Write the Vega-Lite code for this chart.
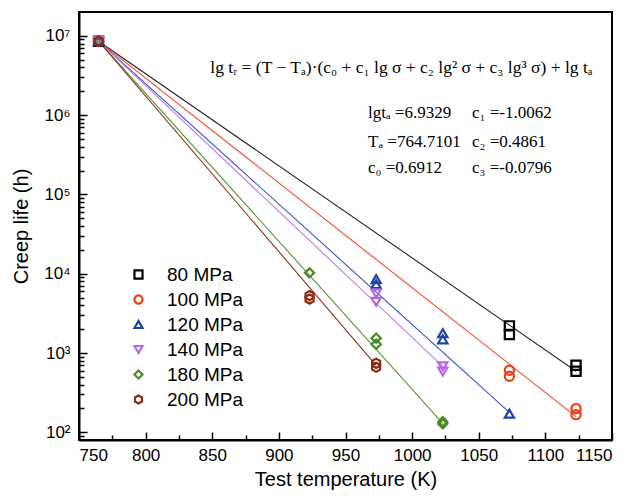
{
  "$schema": "https://vega.github.io/schema/vega-lite/v6.json",
  "width": 533,
  "height": 428,
  "autosize": {"type": "none"},
  "padding": {"left": 79, "top": 12, "right": 20, "bottom": 56},
  "background": "white",
  "config": {
    "view": {"stroke": "#000000", "strokeWidth": 2},
    "font": "Liberation Sans",
    "axis": {"grid": false, "domainColor": "#000000", "domainWidth": 2, "tickColor": "#000000", "tickWidth": 1.5,
             "labelFont": "Liberation Sans", "titleFont": "Liberation Sans", "labelColor": "#000000", "titleColor": "#000000"},
    "legend": {"labelFont": "Liberation Sans", "orient": "none", "legendX": 50, "legendY": 253, "title": null, "padding": 0,
               "labelFontSize": 19, "labelOffset": 19, "rowPadding": 5, "symbolSize": 65, "symbolStrokeWidth": 2.2}
  },
  "datasets": {
    "tests": [
      {"T": 764.71, "life": 8570000, "stress": "80 MPa"},
      {"T": 1073, "life": 2200, "stress": "80 MPa"},
      {"T": 1073, "life": 1710, "stress": "80 MPa"},
      {"T": 1123, "life": 700, "stress": "80 MPa"},
      {"T": 1123, "life": 590, "stress": "80 MPa"},
      {"T": 764.71, "life": 8570000, "stress": "100 MPa"},
      {"T": 1073, "life": 607, "stress": "100 MPa"},
      {"T": 1073, "life": 509, "stress": "100 MPa"},
      {"T": 1123, "life": 199, "stress": "100 MPa"},
      {"T": 1123, "life": 167, "stress": "100 MPa"},
      {"T": 764.71, "life": 8570000, "stress": "120 MPa"},
      {"T": 973, "life": 8550, "stress": "120 MPa"},
      {"T": 973, "life": 7400, "stress": "120 MPa"},
      {"T": 1023, "life": 1780, "stress": "120 MPa"},
      {"T": 1023, "life": 1490, "stress": "120 MPa"},
      {"T": 1073, "life": 172, "stress": "120 MPa"},
      {"T": 764.71, "life": 8570000, "stress": "140 MPa"},
      {"T": 973, "life": 5640, "stress": "140 MPa"},
      {"T": 973, "life": 4420, "stress": "140 MPa"},
      {"T": 1023, "life": 680, "stress": "140 MPa"},
      {"T": 1023, "life": 585, "stress": "140 MPa"},
      {"T": 764.71, "life": 8570000, "stress": "180 MPa"},
      {"T": 923, "life": 10260, "stress": "180 MPa"},
      {"T": 973, "life": 1540, "stress": "180 MPa"},
      {"T": 973, "life": 1290, "stress": "180 MPa"},
      {"T": 1023, "life": 136, "stress": "180 MPa"},
      {"T": 1023, "life": 128, "stress": "180 MPa"},
      {"T": 764.71, "life": 8570000, "stress": "200 MPa"},
      {"T": 923, "life": 5300, "stress": "200 MPa"},
      {"T": 923, "life": 4800, "stress": "200 MPa"},
      {"T": 973, "life": 743, "stress": "200 MPa"},
      {"T": 973, "life": 662, "stress": "200 MPa"}
    ],
    "fits": [
      {"T": 764.71, "life": 8570000, "curve": "80 MPa"},
      {"T": 1123, "life": 590, "curve": "80 MPa"},
      {"T": 764.71, "life": 8570000, "curve": "100 MPa"},
      {"T": 1123, "life": 158, "curve": "100 MPa"},
      {"T": 764.71, "life": 8570000, "curve": "120 MPa"},
      {"T": 1073, "life": 178, "curve": "120 MPa"},
      {"T": 764.71, "life": 8570000, "curve": "140 MPa"},
      {"T": 1023, "life": 680, "curve": "140 MPa"},
      {"T": 764.71, "life": 8570000, "curve": "180 MPa"},
      {"T": 1023, "life": 130, "curve": "180 MPa"},
      {"T": 764.71, "life": 8570000, "curve": "200 MPa"},
      {"T": 973, "life": 700, "curve": "200 MPa"}
    ],
    "equation": [
      {"T": 992, "life": 3940000, "text": "lg tᵣ = (T − Tₐ)·(c₀ + c₁ lg σ + c₂ lg² σ + c₃ lg³ σ) + lg tₐ"}
    ],
    "params": [
      {"T": 966.9, "life": 1066000, "text": "lgtₐ =6.9329"},
      {"T": 1044.9, "life": 1066000, "text": "c₁ =-1.0062"},
      {"T": 966.9, "life": 459000, "text": "Tₐ =764.7101"},
      {"T": 1044.9, "life": 459000, "text": "c₂ =0.4861"},
      {"T": 966.9, "life": 215000, "text": "c₀ =0.6912"},
      {"T": 1044.9, "life": 215000, "text": "c₃ =-0.0796"}
    ]
  },
  "layer": [
    {
      "data": {"name": "fits"},
      "mark": {"type": "line", "strokeWidth": 1.1},
      "encoding": {
        "x": {"field": "T", "type": "quantitative", "scale": {"domain": [750, 1150], "nice": false, "zero": false}, "axis": null},
        "y": {"field": "life", "type": "quantitative", "scale": {"type": "log", "domain": [80, 20000000], "nice": false}, "axis": null},
        "stroke": {"field": "curve", "type": "nominal", "legend": null,
                  "scale": {"range": ["#f04a28", "#3256c0", "#c07ee6", "#55962e", "#8e3218", "#222222"]}},
        "detail": {"field": "curve"}
      }
    },
    {
      "data": {"name": "tests"},
      "mark": {"type": "point", "filled": false, "strokeWidth": 2.2, "size": 85, "opacity": 1},
      "encoding": {
        "x": {"field": "T", "type": "quantitative",
              "axis": {"orient": "bottom", "title": "Test temperature (K)", "values": [750, 800, 850, 900, 950, 1000, 1050, 1100, 1150], "format": "d",
                       "tickSize": -8, "labelPadding": 15, "labelFontSize": 17, "titleFontSize": 20, "titleFontWeight": "normal", "titlePadding": 6}},
        "y": {"field": "life", "type": "quantitative",
              "axis": {"orient": "left", "title": "Creep life (h)", "values": [100, 1000, 10000, 100000, 1000000, 10000000],
                       "labelExpr": "'10' + ['⁰','¹','²','³','⁴','⁵','⁶','⁷'][round(log(datum.value) / LN10)]",
                       "tickSize": -8, "labelPadding": 17, "labelFontSize": 17, "titleFontSize": 20, "titleFontWeight": "normal", "titlePadding": 12}},
        "color": {"field": "stress", "type": "nominal",
                  "scale": {"domain": ["80 MPa", "100 MPa", "120 MPa", "140 MPa", "180 MPa", "200 MPa"],
                            "range": ["#000000", "#ee3e14", "#1e44a8", "#b46ade", "#4a8a22", "#8a2a10"]}},
        "shape": {"field": "stress", "type": "nominal",
                  "scale": {"domain": ["80 MPa", "100 MPa", "120 MPa", "140 MPa", "180 MPa", "200 MPa"],
                            "range": ["square", "circle", "triangle-up", "triangle-down", "diamond", "M0,-1L0.866,-0.5L0.866,0.5L0,1L-0.866,0.5L-0.866,-0.5Z"]}}
      }
    },
    {
      "data": {"name": "equation"},
      "mark": {"type": "text", "font": "Liberation Serif", "fontSize": 17.5, "align": "center", "baseline": "middle", "color": "#000000"},
      "encoding": {
        "x": {"field": "T", "type": "quantitative", "axis": null},
        "y": {"field": "life", "type": "quantitative", "axis": null},
        "text": {"field": "text"}
      }
    },
    {
      "data": {"name": "params"},
      "mark": {"type": "text", "font": "Liberation Serif", "fontSize": 17, "align": "left", "baseline": "middle", "color": "#000000"},
      "encoding": {
        "x": {"field": "T", "type": "quantitative", "axis": null},
        "y": {"field": "life", "type": "quantitative", "axis": null},
        "text": {"field": "text"}
      }
    },
    {
      "data": {"name": "tests"},
      "mark": {"type": "point", "opacity": 0},
      "encoding": {
        "x": {"field": "T", "type": "quantitative",
              "axis": {"orient": "bottom", "title": null, "labels": false, "domain": false, "values": [775, 825, 875, 925, 975, 1025, 1075, 1125], "tickSize": -5}},
        "y": {"field": "life", "type": "quantitative",
              "axis": {"orient": "left", "title": null, "labels": false, "domain": false, "tickSize": -5,
                       "values": [90, 200, 300, 400, 500, 600, 700, 800, 900, 2000, 3000, 4000, 5000, 6000, 7000, 8000, 9000,
                                  20000, 30000, 40000, 50000, 60000, 70000, 80000, 90000, 200000, 300000, 400000, 500000, 600000, 700000, 800000, 900000,
                                  2000000, 3000000, 4000000, 5000000, 6000000, 7000000, 8000000, 9000000]}}
      }
    }
  ],
  "resolve": {"axis": {"x": "independent", "y": "independent"}}
}
